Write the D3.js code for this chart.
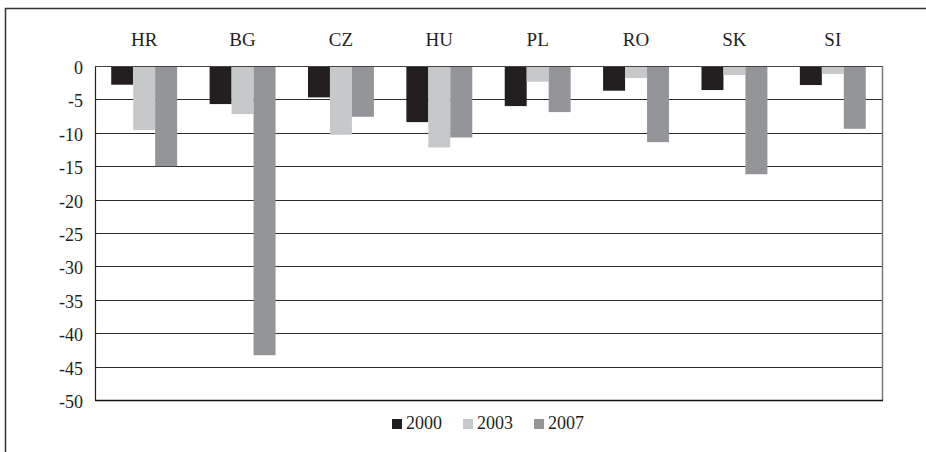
<!DOCTYPE html>
<html>
<head>
<meta charset="utf-8">
<script src="https://cdn.jsdelivr.net/npm/d3@7"></script>
<style>
  body { margin: 0; background: #fff; }
  text { font-family: "Liberation Serif", "DejaVu Serif", serif; }
</style>
</head>
<body>
<div class="barChart"></div>
<script>
const WIDTH = 926;
const HEIGHT = 452;

// data
var countries = ['HR', 'BG', 'CZ', 'HU', 'PL', 'RO', 'SK', 'SI'];
var years = ['2000', '2003', '2007'];
var values2000 = [-2.8, -5.7, -4.7, -8.4, -6.0, -3.7, -3.6, -2.85];
var values2003 = [-9.6, -7.2, -10.3, -12.2, -2.35, -1.8, -1.35, -1.2];
var values2007 = [-15.0, -43.3, -7.6, -10.7, -6.9, -11.4, -16.2, -9.4];
var yTicks = [0, -5, -10, -15, -20, -25, -30, -35, -40, -45, -50];

var colors = {'2000': '#231f20', '2003': '#c7c8ca', '2007': '#939598'};

var plot = {left: 95, right: 882, top: 66, bottom: 400};

var seriesByYear = {'2000': values2000, '2003': values2003, '2007': values2007};

function generateRows() {
    return countries.map(function (c, i) {
        return {country: c, values: years.map(function (y) {
            return {year: y, value: seriesByYear[y][i]};
        })};
    });
}

var xScale = d3.scaleBand().domain(countries).range([plot.left, plot.right])
    .paddingInner(0.33).paddingOuter(0.165);
var xInner = d3.scaleBand().domain(years).range([0, xScale.bandwidth()]);
var yScale = d3.scaleLinear().domain([0, -50]).range([plot.top, plot.bottom]);

var svg = d3.select('.barChart').append('svg')
    .attr('width', WIDTH)
    .attr('height', HEIGHT);

// outer frame (top and left edges visible)
svg.append('path')
    .attr('d', 'M5.5,' + HEIGHT + 'V8.5H' + WIDTH)
    .attr('fill', 'none')
    .attr('stroke', '#333')
    .attr('stroke-width', 1.5);

function drawGrid() {
    var g = svg.append('g');
    g.selectAll('line').data(yTicks.slice(1, -1)).enter().append('line')
        .attr('x1', plot.left).attr('x2', plot.right)
        .attr('y1', function (d) { return Math.round(yScale(d)) + 0.5; })
        .attr('y2', function (d) { return Math.round(yScale(d)) + 0.5; })
        .attr('stroke', '#2a2a2a')
        .attr('stroke-width', 1.2);
    // plot area right edge
    g.append('line')
        .attr('x1', plot.right + 0.5).attr('x2', plot.right + 0.5)
        .attr('y1', plot.top).attr('y2', plot.bottom)
        .attr('stroke', '#777').attr('stroke-width', 1.5);
}

function drawBars(rows) {
    var groups = svg.append('g').selectAll('g').data(rows).enter().append('g')
        .attr('transform', function (d) { return 'translate(' + xScale(d.country) + ',0)'; });
    groups.selectAll('rect').data(function (d) { return d.values; }).enter().append('rect')
        .attr('x', function (d) { return xInner(d.year); })
        .attr('y', yScale(0))
        .attr('width', xInner.bandwidth())
        .attr('height', function (d) { return yScale(d.value) - yScale(0); })
        .attr('fill', function (d) { return colors[d.year]; });
}

function drawAxes() {
    var yAxis = d3.axisLeft(yScale).tickValues(yTicks).tickSize(0).tickPadding(12)
        .tickFormat(function (d) { return String(d); });
    var yAxisG = svg.append('g').attr('transform', 'translate(' + plot.left + ',0)').call(yAxis);
    yAxisG.select('.domain').attr('stroke', '#222').attr('stroke-width', 1.2);
    yAxisG.selectAll('text').attr('font-size', 18).attr('fill', '#231f20')
        .attr('font-family', '"Liberation Serif", serif').attr('dy', '0.42em');

    // zero line on top and bottom axis line
    svg.append('line')
        .attr('x1', plot.left).attr('x2', plot.right)
        .attr('y1', yScale(0) + 0.5).attr('y2', yScale(0) + 0.5)
        .attr('stroke', '#444').attr('stroke-width', 1.2);
    svg.append('line')
        .attr('x1', plot.left).attr('x2', plot.right + 1)
        .attr('y1', yScale(-50) + 0.5).attr('y2', yScale(-50) + 0.5)
        .attr('stroke', '#111').attr('stroke-width', 1.5);

    // category labels above the plot
    var xAxis = d3.axisTop(xScale).tickSize(0).tickPadding(20);
    var xAxisG = svg.append('g').attr('transform', 'translate(0,' + plot.top + ')').call(xAxis);
    xAxisG.select('.domain').remove();
    xAxisG.selectAll('text').attr('font-size', 19).attr('fill', '#231f20')
        .attr('font-family', '"Liberation Serif", serif');
}

function drawLegend() {
    var legendX = d3.scalePoint().domain(years).range([392, 534]);
    var g = svg.append('g');
    var items = g.selectAll('g').data(years).enter().append('g')
        .attr('transform', function (d) { return 'translate(' + legendX(d) + ',419)'; });
    items.append('rect')
        .attr('width', 10).attr('height', 10)
        .attr('fill', function (d) { return colors[d]; });
    items.append('text')
        .attr('x', 14).attr('y', 10)
        .attr('font-size', 18).attr('fill', '#231f20')
        .text(function (d) { return d; });
}

drawGrid();
drawBars(generateRows());
drawAxes();
drawLegend();
</script>
</body>
</html>
